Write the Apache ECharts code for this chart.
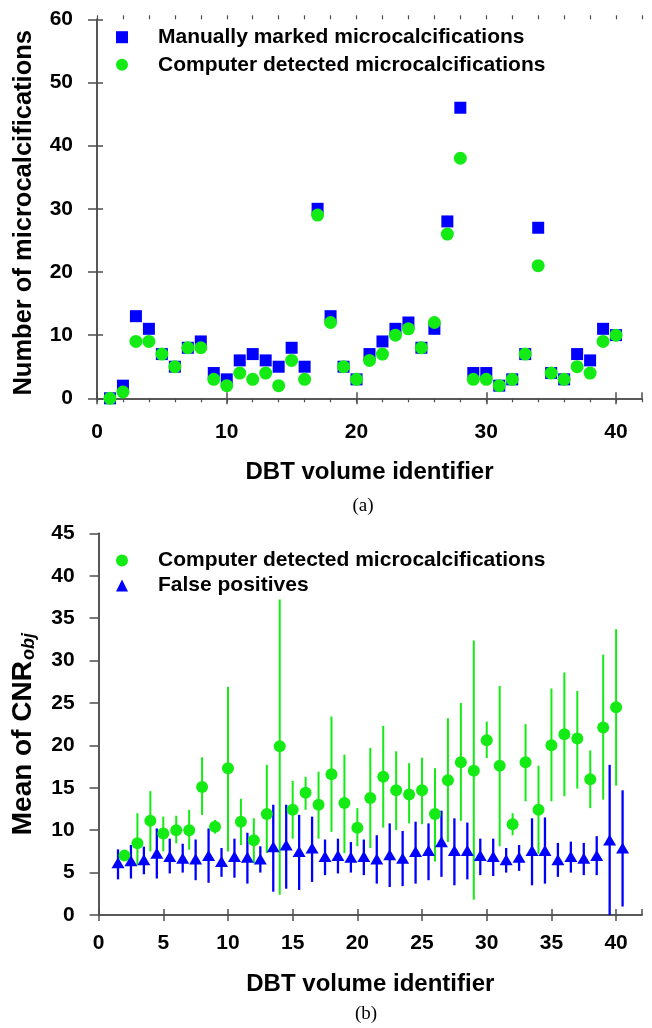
<!DOCTYPE html>
<html><head><meta charset="utf-8">
<script src="https://cdn.jsdelivr.net/npm/echarts@6/dist/echarts.min.js"></script>
<style>html,body{margin:0;padding:0;background:#fff}#c{width:652px;height:1028px}</style>
</head><body><div id="c"></div>
<script>
// ---- data (a) ----
const volumeIds = [1,2,3,4,5,6,7,8,9,10,11,12,13,14,15,16,17,18,19,20,21,22,23,24,25,26,27,28,29,30,31,32,33,34,35,36,37,38,39,40];
const manualCounts = [0,2,13,11,7,5,8,9,4,3,6,7,6,5,8,5,30,13,5,3,7,9,11,12,8,11,28,46,4,4,2,3,7,27,4,3,7,6,11,10];
const detectedCounts = [0,1,9,9,7,5,8,8,3,2,4,3,4,2,6,3,29,12,5,3,6,7,10,11,8,12,26,38,3,3,2,3,7,21,4,3,5,4,9,10];
// ---- data (b) ----
const cnrIds = [2,3,4,5,6,7,8,9,10,11,12,13,14,15,16,17,18,19,20,21,22,23,24,25,26,27,28,29,30,31,32,33,34,35,36,37,38,39,40];
const cnrMean = [7.0,8.45,11.1,9.6,10.0,10.0,15.1,10.4,17.3,11.0,8.8,11.9,19.9,12.4,14.4,13.0,16.6,13.2,10.3,13.8,16.3,14.7,14.2,14.7,11.9,15.9,18.0,17.0,20.6,17.6,10.7,18.0,12.4,20.0,21.3,20.8,16.0,22.1,24.5];
const cnrLow = [6.4,5.9,7.5,7.5,8.45,7.7,11.8,9.6,7.5,8.25,6.1,7.3,2.4,9.0,12.4,9.0,9.8,7.3,8.1,7.9,10.3,10.0,10.8,10.7,6.3,8.6,11.1,1.8,18.5,8.1,9.4,13.4,7.2,13.4,14.0,14.9,12.6,13.6,15.25];
const cnrHigh = [7.6,12.0,14.6,11.6,11.7,12.4,18.6,11.2,26.9,13.7,11.4,17.7,37.2,15.8,16.3,16.9,23.4,18.9,12.6,19.7,22.3,19.3,17.9,18.55,17.3,23.2,25.0,32.35,22.8,27.0,12.0,22.5,17.6,26.7,28.6,26.4,19.4,30.7,33.7];
const fpX = [1.5,2.5,3.5,4.5,5.5,6.5,7.5,8.5,9.5,10.5,11.5,12.5,13.5,14.5,15.5,16.5,17.5,18.5,19.5,20.5,21.5,22.5,23.5,24.5,25.5,26.5,27.5,28.5,29.5,30.5,31.5,32.5,33.5,34.5,35.5,36.5,37.5,38.5,39.5,40.5];
const fpMean = [6.17,6.4,6.5,7.27,6.9,6.7,6.6,7.0,6.3,6.9,6.8,6.6,8.06,8.25,7.5,7.9,6.9,7.0,6.8,6.9,6.6,7.1,6.7,7.5,7.6,8.65,7.6,7.6,7.0,6.9,6.5,6.8,7.6,7.6,6.5,6.9,6.7,7.0,8.85,7.9];
const fpLow = [4.2,4.3,4.8,4.3,4.9,5.0,4.1,3.8,4.5,4.4,3.7,5.0,2.75,3.1,2.95,3.9,4.7,4.9,5.0,4.7,3.7,3.3,3.4,3.7,4.1,4.5,3.5,4.2,4.7,4.6,5.0,5.2,3.5,3.7,4.5,5.0,4.7,4.7,0,1.0];
const fpHigh = [7.74,8.25,8.06,10.2,9.0,8.4,8.9,10.2,7.9,9.0,9.7,8.1,13.0,13.0,11.8,11.6,8.9,9.0,8.6,8.9,9.4,10.8,9.9,11.0,10.8,12.3,11.4,10.9,9.0,9.0,7.9,8.25,11.4,11.5,8.5,8.65,8.5,9.3,17.7,14.7];

const FONT = "'Liberation Sans', Arial, Helvetica, sans-serif";
const BLUE = '#0000ff', GREEN = '#14eb14', AX = '#4d4d4d';
const line = {show: true, lineStyle: {color: AX, width: 1.5}};
const tickLabel = {fontSize: 21, fontWeight: 'bold', color: '#000', fontFamily: FONT};
const titleStyle = {fontSize: 24, fontWeight: 'bold', color: '#000', fontFamily: FONT};

function errBar(color, w) {
  return function (params, api) {
    const p1 = api.coord([api.value(0), api.value(1)]);
    const p2 = api.coord([api.value(0), api.value(2)]);
    return {type: 'line', shape: {x1: p1[0], y1: p1[1], x2: p2[0], y2: p2[1]},
            style: {stroke: color, lineWidth: w}};
  };
}

const chart = echarts.init(document.getElementById('c'), null, {renderer: 'canvas'});
chart.setOption({
  animation: false,
  backgroundColor: '#fff',
  grid: [
    {left: 97, top: 19.3, width: 545, height: 379},
    {left: 97, top: 19.3, width: 545, height: 379},
    {left: 98.6, top: 533.3, width: 543.4, height: 381.7}
  ],
  xAxis: [
    {gridIndex: 0, type: 'value', position: 'bottom', min: 0, max: 42, interval: 10,
     axisLine: line, axisTick: {length: 6, lineStyle: {color: AX, width: 1.5}},
     axisLabel: Object.assign({margin: 23, showMaxLabel: false}, tickLabel),
     splitLine: {show: false},
     name: 'DBT volume identifier', nameLocation: 'middle', nameGap: 62, nameTextStyle: titleStyle},
    {gridIndex: 0, type: 'value', position: 'top', min: 0, max: 42, interval: 10,
     axisLine: line, axisTick: {length: 6, lineStyle: {color: AX, width: 1.5}},
     axisLabel: {show: false}, splitLine: {show: false}},
    {gridIndex: 1, type: 'value', position: 'bottom', min: 0, max: 42, interval: 2,
     axisLine: {show: false}, axisTick: {length: 4, lineStyle: {color: AX, width: 1.2}},
     axisLabel: {show: false}, splitLine: {show: false}},
    {gridIndex: 1, type: 'value', position: 'top', min: 0, max: 42, interval: 2,
     axisLine: {show: false}, axisTick: {length: 4, lineStyle: {color: AX, width: 1.2}},
     axisLabel: {show: false}, splitLine: {show: false}},
    {gridIndex: 2, type: 'value', position: 'bottom', min: 0, max: 42, interval: 5,
     axisLine: line, axisTick: {length: 6, lineStyle: {color: AX, width: 1.5}},
     axisLabel: Object.assign({margin: 18, showMaxLabel: false}, tickLabel),
     splitLine: {show: false},
     name: 'DBT volume identifier', nameLocation: 'middle', nameGap: 57, nameTextStyle: titleStyle},
    {gridIndex: 2, type: 'value', position: 'top', min: 0, max: 42, interval: 5,
     axisLine: line, axisTick: {length: 6, lineStyle: {color: AX, width: 1.5}},
     axisLabel: {show: false}, splitLine: {show: false}}
  ],
  yAxis: [
    {gridIndex: 0, type: 'value', position: 'left', min: 0, max: 60, interval: 10,
     axisLine: line, axisTick: {length: 9, lineStyle: {color: AX, width: 1.5}},
     axisLabel: Object.assign({margin: 24}, tickLabel), splitLine: {show: false},
     name: 'Number of microcalcifications', nameLocation: 'middle', nameGap: 60,
     nameTextStyle: {fontSize: 25.5, fontWeight: 'bold', color: '#000', fontFamily: FONT, padding: [0, 8, 0, 0]}},
    {gridIndex: 0, type: 'value', position: 'right', min: 0, max: 60, interval: 10,
     axisLine: line, axisTick: {length: 6, lineStyle: {color: AX, width: 1.5}},
     axisLabel: {show: false}, splitLine: {show: false}},
    {gridIndex: 1, type: 'value', show: false, min: 0, max: 60},
    {gridIndex: 2, type: 'value', position: 'left', min: 0, max: 45, interval: 5,
     axisLine: line, axisTick: {length: 9, lineStyle: {color: AX, width: 1.5}},
     axisLabel: Object.assign({margin: 24}, tickLabel), splitLine: {show: false},
     name: '{a|Mean of CNR}{b|obj}', nameLocation: 'middle', nameGap: 61,
     nameTextStyle: {rich: {
       a: {fontSize: 28, fontWeight: 'bold', color: '#000', fontFamily: FONT},
       b: {fontSize: 18, fontWeight: 'bold', fontStyle: 'italic', color: '#000', fontFamily: FONT,
           verticalAlign: 'bottom', padding: [0, 20, 0, 1]}
     }}},
    {gridIndex: 2, type: 'value', position: 'right', min: 0, max: 45, interval: 5,
     axisLine: line, axisTick: {show: false}, axisLabel: {show: false}, splitLine: {show: false}}
  ],
  legend: [
    {left: 111, top: 21.7, orient: 'vertical', itemWidth: 12, itemHeight: 12, itemGap: 6.6,
     selectedMode: false,
     data: ['Manually marked microcalcifications', 'Computer detected microcalcifications'],
     textStyle: {fontSize: 21, fontWeight: 'bold', color: '#000', fontFamily: FONT, lineHeight: 20, padding: [0, 0, 0, 25]}},
    {left: 111, top: 545, orient: 'vertical', itemWidth: 12, itemHeight: 12, itemGap: 4,
     selectedMode: false,
     data: ['Computer detected microcalcifications', 'False positives'],
     textStyle: {fontSize: 21, fontWeight: 'bold', color: '#000', fontFamily: FONT, lineHeight: 20, padding: [0, 0, 0, 25]}}
  ],
  graphic: [
    {type: 'text', x: 363, y: 506, style: {text: '(a)', fontSize: 19, fontFamily: "'Liberation Serif', 'Times New Roman', serif", fill: '#000', align: 'center', verticalAlign: 'middle'}},
    {type: 'text', x: 366, y: 1014, style: {text: '(b)', fontSize: 19, fontFamily: "'Liberation Serif', 'Times New Roman', serif", fill: '#000', align: 'center', verticalAlign: 'middle'}}
  ],
  series: [
    {type: 'scatter', name: 'Manually marked microcalcifications', xAxisIndex: 0, yAxisIndex: 0,
     symbol: 'rect', symbolSize: 12, itemStyle: {color: BLUE, opacity: 1},
     data: volumeIds.map((v, i) => [v, manualCounts[i]])},
    {type: 'scatter', name: 'Computer detected microcalcifications', xAxisIndex: 0, yAxisIndex: 0,
     symbol: 'circle', symbolSize: 13, itemStyle: {color: GREEN, opacity: 1},
     data: volumeIds.map((v, i) => [v, detectedCounts[i]])},
    {type: 'custom', xAxisIndex: 4, yAxisIndex: 3, renderItem: errBar(GREEN, 2),
     encode: {x: 0, y: [1, 2]}, data: cnrIds.map((v, i) => [v, cnrLow[i], cnrHigh[i]])},
    {type: 'scatter', name: 'Computer detected microcalcifications', xAxisIndex: 4, yAxisIndex: 3,
     symbol: 'circle', symbolSize: 12, itemStyle: {color: GREEN, opacity: 1},
     data: cnrIds.map((v, i) => [v, cnrMean[i]])},
    {type: 'custom', xAxisIndex: 4, yAxisIndex: 3, renderItem: errBar(BLUE, 2.3),
     encode: {x: 0, y: [1, 2]}, data: fpX.map((v, i) => [v, fpLow[i], fpHigh[i]])},
    {type: 'scatter', name: 'False positives', xAxisIndex: 4, yAxisIndex: 3,
     symbol: 'triangle', symbolSize: [13, 11], itemStyle: {color: BLUE, opacity: 1},
     data: fpX.map((v, i) => [v, fpMean[i]])}
  ]
});
</script></body></html>
